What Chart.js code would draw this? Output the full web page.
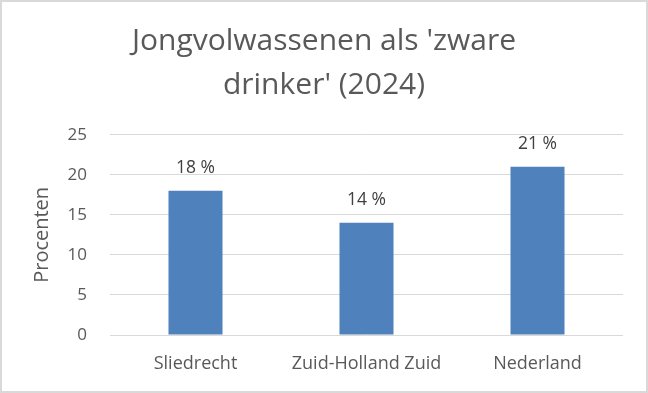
<!DOCTYPE html>
<html>
<head>
<meta charset="utf-8">
<script src="https://cdn.jsdelivr.net/npm/chart.js@4.4.1/dist/chart.umd.min.js"></script>
<style>
html,body{margin:0;padding:0;background:#fff;}
#wrap{width:648px;height:393px;position:relative;}
</style>
</head>
<body>
<div id="wrap"><canvas id="c" width="648" height="393"></canvas></div>
<script>
const titleLines = ["Jongvolwassenen als 'zware", "drinker' (2024)"];
const categories = ["Sliedrecht", "Zuid-Holland Zuid", "Nederland"];
const values = [18, 14, 21];
const valueLabels = ["18 %", "14 %", "21 %"];
const yTicks = [0, 5, 10, 15, 20, 25];
const yTitle = "Procenten";

const FONT = "'Open Sans', sans-serif";

const framePlugin = {
  id: 'frame',
  afterDraw(chart) {
    const ctx = chart.ctx;
    ctx.save();
    // chart title (two lines, centred on the canvas)
    ctx.font = "30px " + FONT;
    ctx.fillStyle = '#595959';
    ctx.textAlign = 'center';
    ctx.textBaseline = 'alphabetic';
    titleLines.forEach((t, i) => ctx.fillText(t, chart.width / 2, 49.5 + i * 44));
    // outer border
    ctx.strokeStyle = '#d9d9d9';
    ctx.lineWidth = 2;
    ctx.strokeRect(1, 1, chart.width - 2, chart.height - 2);
    ctx.restore();
  }
};

const valueLabelPlugin = {
  id: 'valueLabels',
  afterDatasetsDraw(chart) {
    const ctx = chart.ctx;
    const meta = chart.getDatasetMeta(0);
    ctx.save();
    ctx.font = "17.5px " + FONT;
    ctx.fillStyle = '#404040';
    ctx.textAlign = 'center';
    ctx.textBaseline = 'middle';
    meta.data.forEach((bar, i) => {
      ctx.fillText(valueLabels[i], bar.x, bar.y - 23);
    });
    ctx.restore();
  }
};

new Chart(document.getElementById('c'), {
  type: 'bar',
  data: {
    labels: categories,
    datasets: [{
      data: values,
      backgroundColor: '#4f81bd',
      categoryPercentage: 1,
      barPercentage: 0.316
    }]
  },
  options: {
    responsive: false,
    animation: false,
    layout: { padding: { left: 0, right: 25, top: 134.7, bottom: 0 } },
    plugins: {
      legend: { display: false },
      tooltip: { enabled: false },
      title: { display: false }
    },
    scales: {
      x: {
        grid: { display: false, drawTicks: false },
        border: { display: false },
        ticks: { color: '#595959', font: { family: FONT, size: 18 }, padding: 18, maxRotation: 0 },
        afterFit(scale) { scale.height = 58; }
      },
      y: {
        min: 0, max: 25,
        afterBuildTicks(scale) { scale.ticks = yTicks.map(v => ({ value: v })); },
        grid: { color: '#d9d9d9', lineWidth: 1, drawTicks: false },
        border: { display: false },
        ticks: { color: '#595959', font: { family: FONT, size: 17 }, padding: 23 },
        title: {
          display: true, text: yTitle, color: '#595959',
          font: { family: FONT, size: 20 }, padding: { top: 30, bottom: 0 }
        },
        afterFit(scale) { scale.width = 110; }
      }
    }
  },
  plugins: [valueLabelPlugin, framePlugin]
});
</script>
</body>
</html>
